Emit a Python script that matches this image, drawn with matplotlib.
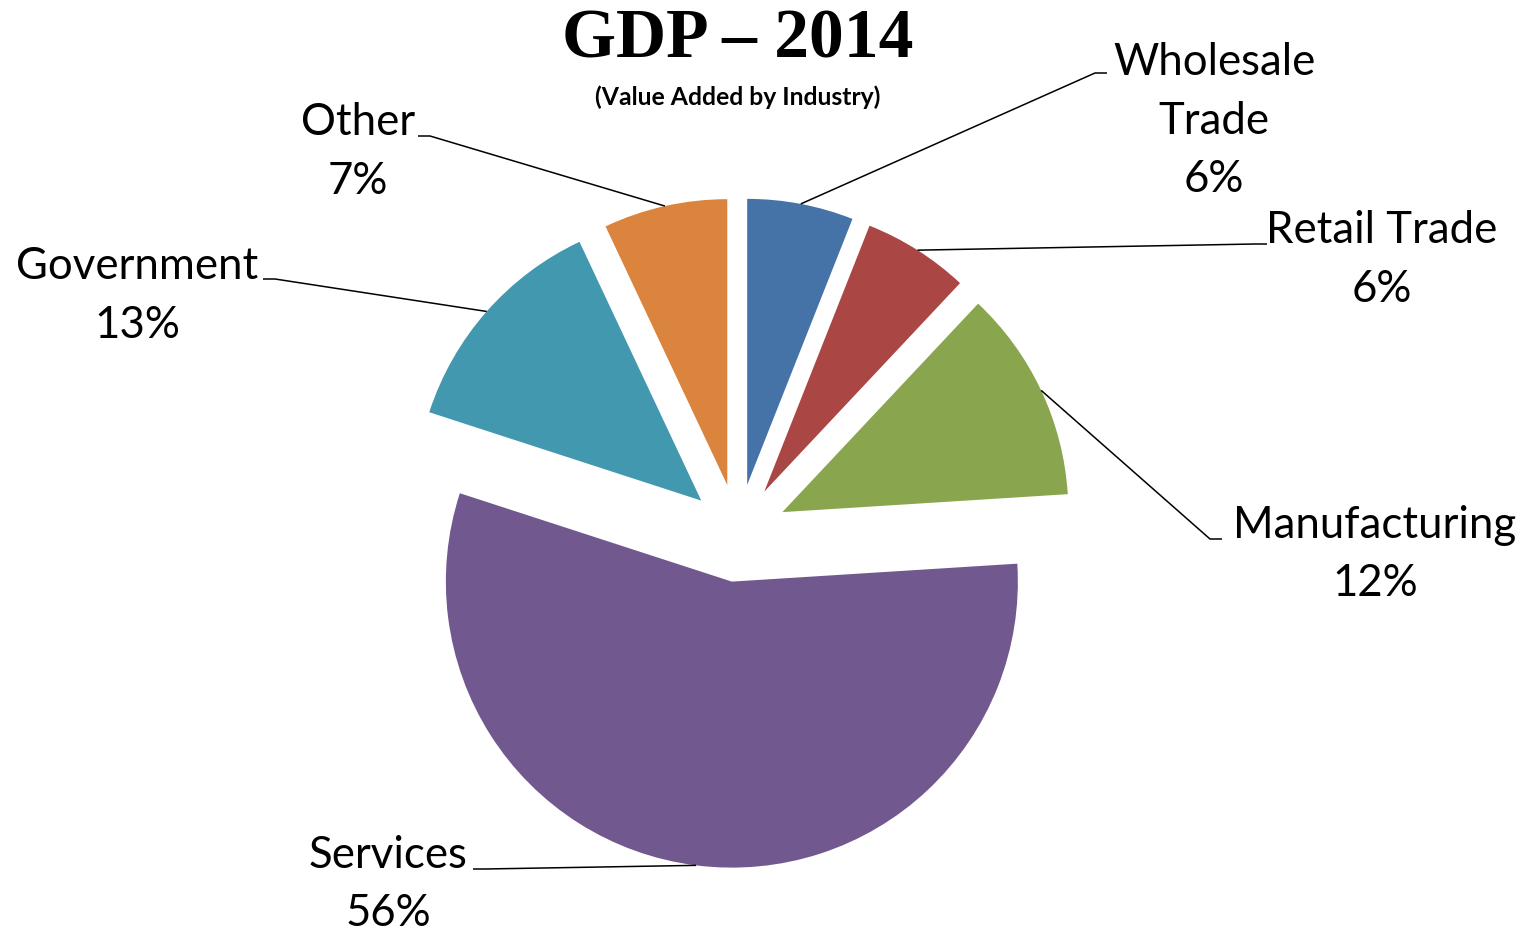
import numpy as np
import matplotlib
matplotlib.use('Agg')
import matplotlib.pyplot as plt

W, H = 1535, 933

industries = ['Wholesale\nTrade', 'Retail Trade', 'Manufacturing', 'Services', 'Government', 'Other']
shares = [6, 6, 12, 56, 13, 7]
colors = ['#4572A7', '#AA4643', '#89A54E', '#71588F', '#4198AF', '#DB843D']

# label placement in pixels from top-left: centre x, first baseline y
label_pos = [(1214, 75), (1382, 243), (1375, 538), (388, 868), (137, 279), (358, 135)]
# bend point of each leader line
elbows = [(1095, 73), (1255, 244), (1210, 539), (485, 869), (275, 279), (430, 136)]

pie_center = (738, 533)
pie_radius = 286
explode_px = 49
line_step = 58.5

fig = plt.figure(figsize=(W / 100, H / 100), dpi=100)
ax = fig.add_axes([0, 0, 1, 1])

# pie explode is an absolute offset in data units here (pixels)
wedges, _ = ax.pie(shares, colors=colors, startangle=90, counterclock=False,
                   explode=[explode_px] * len(shares), radius=pie_radius,
                   center=(pie_center[0], H - pie_center[1]),
                   wedgeprops=dict(linewidth=0))

ax.set_xlim(0, W)
ax.set_ylim(0, H)
ax.set_aspect('equal')
ax.axis('off')

for w, name, pct, (lx, ly), (ex, ey) in zip(wedges, industries, shares, label_pos, elbows):
    mid = np.deg2rad((w.theta1 + w.theta2) / 2)
    cx, cy = w.center
    px = cx + w.r * np.cos(mid)
    py = cy + w.r * np.sin(mid)
    side = 1 if lx > pie_center[0] else -1
    ax.plot([px, ex, ex + side * 12], [py, H - ey, H - ey], color='black', lw=1.1,
            solid_capstyle='butt')
    lines = name.split('\n') + ['%d%%' % pct]
    for i, txt in enumerate(lines):
        ax.text(lx, H - (ly + i * line_step), txt, ha='center', va='baseline',
                fontsize=31.5, family='Lato', color='black')

ax.text(738, H - 58, 'GDP \u2013 2014', ha='center', va='baseline',
        fontsize=50, family='Liberation Serif', fontweight='bold')
ax.text(738, H - 105, '(Value Added by Industry)', ha='center', va='baseline',
        fontsize=17.8, family='Lato', fontweight='bold')

fig.savefig('out.png', dpi=100, facecolor='white')
